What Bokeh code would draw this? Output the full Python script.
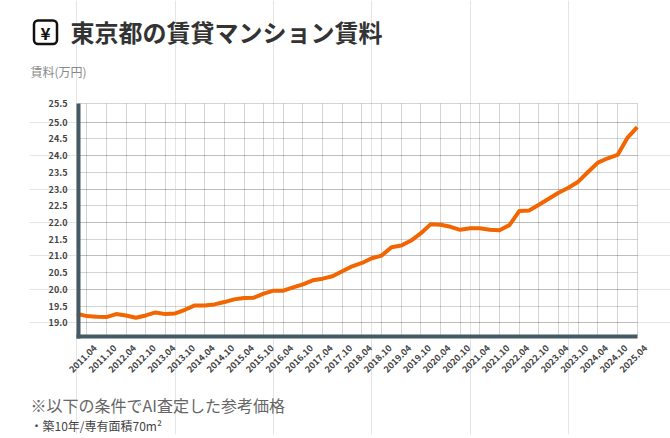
import math
from bokeh.core.properties import value
from bokeh.plotting import figure
from bokeh.models import (BoxAnnotation, ColumnDataSource, FixedTicker, Grid, Label, LabelSet,
                          LinearAxis, Range1d)
from bokeh.embed import file_html
from bokeh.resources import INLINE

# Quarterly rent values, 2011.01 to 2025.04 (万円)
rent = [19.27, 19.20, 19.18, 19.17, 19.26, 19.22, 19.15, 19.22, 19.31, 19.26,
        19.28, 19.39, 19.52, 19.52, 19.55, 19.62, 19.70, 19.74, 19.75, 19.87,
        19.96, 19.96, 20.06, 20.15, 20.27, 20.32, 20.39, 20.54, 20.69, 20.79,
        20.93, 21.01, 21.26, 21.31, 21.46, 21.68, 21.95, 21.93, 21.87, 21.78,
        21.83, 21.83, 21.78, 21.77, 21.92, 22.34, 22.36, 22.53, 22.71, 22.89,
        23.04, 23.22, 23.51, 23.79, 23.92, 24.02, 24.53, 24.85]
quarters = list(range(len(rent)))
x_labels = ["2011.04", "2011.10", "2012.04", "2012.10", "2013.04", "2013.10", "2014.04", "2014.10",
            "2015.04", "2015.10", "2016.04", "2016.10", "2017.04", "2017.10", "2018.04", "2018.10",
            "2019.04", "2019.10", "2020.04", "2020.10", "2021.04", "2021.10", "2022.04", "2022.10",
            "2023.04", "2023.10", "2024.04", "2024.10", "2025.04"]
x_ticks = [1 + 2 * k for k in range(len(x_labels))]
y_ticks = [19.0, 19.5, 20.0, 20.5, 21.0, 21.5, 22.0, 22.5, 23.0, 23.5, 24.0, 24.5, 25.0, 25.56]
y_labels = ["19.0", "19.5", "20.0", "20.5", "21.0", "21.5", "22.0", "22.5", "23.0", "23.5",
            "24.0", "24.5", "25.0", "25.5"]

W, H = 670, 438
FL, FB = 29, 4              # frame left and bottom border, px
FONT = "Noto Sans CJK JP"
AXIS = "#455a64"
X_LEFT, X_RIGHT = 0.16, 57  # the plot area inside the large frame
Y_BOTTOM, Y_TOP = 18.59, 25.56
X_PX, Y_PX = 9.83, 33.44    # px per quarter and per 万円


def dx(px):
    return (px - 76.4) / X_PX


def dy(py):
    return 19 + (322.3 - py) / Y_PX


p = figure(width=W, height=H, output_backend="svg", toolbar_location=None,
           x_range=Range1d(dx(FL), dx(W)), y_range=Range1d(dy(H - FB), dy(0)),
           x_axis_location=None, y_axis_location=None,
           min_border_left=FL, min_border_right=0, min_border_top=0, min_border_bottom=FB,
           background_fill_color="white", border_fill_color="white")
p.outline_line_color = None

xgrid = Grid(dimension=0, ticker=FixedTicker(ticks=x_ticks), cross_bounds=(Y_BOTTOM, Y_TOP))
ygrid = Grid(dimension=1, ticker=FixedTicker(ticks=y_ticks), cross_bounds=(X_LEFT, X_RIGHT))
for g in (xgrid, ygrid):
    g.grid_line_color = "black"
    g.grid_line_alpha = 0.17
    g.grid_line_width = 1
    p.add_layout(g)

p.line(quarters, rent, line_color="#f26500", line_width=4, line_join="round")

xaxis = LinearAxis(ticker=FixedTicker(ticks=x_ticks), fixed_location=Y_BOTTOM, bounds=(dx(76), X_RIGHT),
                   major_label_text_color=None, major_label_text_font_size="1px", major_label_standoff=0)
yaxis = LinearAxis(ticker=FixedTicker(ticks=y_ticks), fixed_location=X_LEFT, bounds=(dy(338), Y_TOP + 0.01),
                   major_label_overrides=dict(zip(y_ticks, y_labels)),
                   major_label_text_font=FONT, major_label_text_font_size="9px",
                   major_label_text_font_style="bold", major_label_text_color="#444444",
                   major_label_standoff=5)
p.add_layout(xaxis, "below")
p.add_layout(yaxis, "left")
for ax in (xaxis, yaxis):
    ax.axis_line_color = AXIS
    ax.axis_line_width = 4
    ax.major_tick_line_color = None
    ax.minor_tick_line_color = None
    ax.level = "overlay"

src = ColumnDataSource(dict(x=x_ticks, y=[Y_BOTTOM] * len(x_ticks), t=x_labels))
p.add_layout(LabelSet(x="x", y="y", text="t", source=src, angle=math.pi / 4,
                      x_offset=-4, y_offset=-22, text_align="center", text_baseline="middle",
                      text_font=value(FONT), text_font_size="9px", text_font_style="bold",
                      text_color="#444444"))


def text(x, y, s, size, color, style="normal", align="left"):
    p.add_layout(Label(x=dx(x), y=dy(y), text=s,
                       text_font=FONT, text_font_size=f"{size}px", text_font_style=style,
                       text_color=color, text_align=align, text_baseline="middle"))


p.add_layout(BoxAnnotation(left=dx(33.5), right=dx(56.5), top=dy(20), bottom=dy(43.5),
                           fill_color="white", fill_alpha=1, line_color="#111111", line_alpha=1,
                           line_width=2.5, border_radius=4, level="annotation"))
text(45, 31.5, "¥", 17, "#111111", "bold", "center")
text(70, 31, "東京都の賃貸マンション賃料", 24, "#333333", "bold")
text(30, 71, "賃料(万円)", 12, "#888888")
text(30, 404, "※以下の条件でAI査定した参考価格", 16, "#666666")
text(30, 425, "・築10年/専有面積70m²", 12, "#444444")

open("out.html", "w").write(file_html(p, INLINE))
